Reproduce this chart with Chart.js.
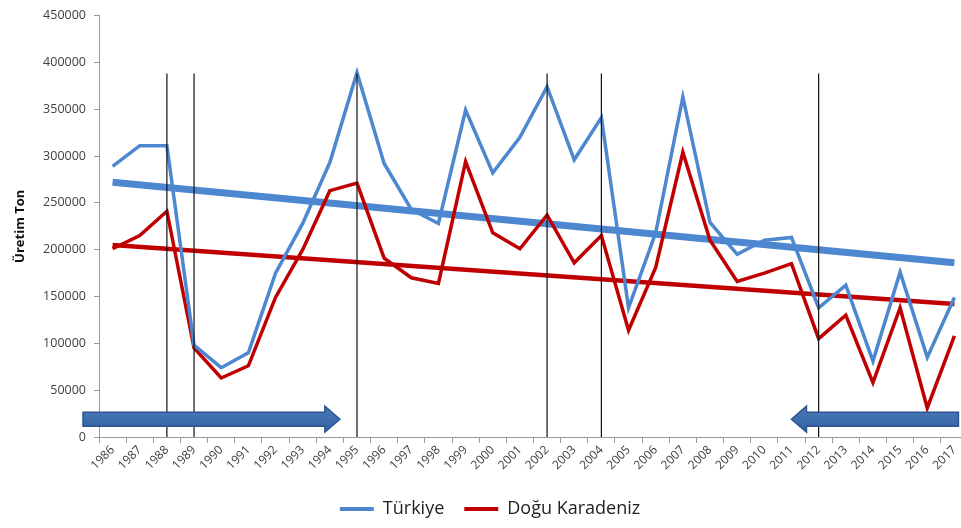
<!DOCTYPE html>
<html>
<head>
<meta charset="utf-8">
<script src="https://cdn.jsdelivr.net/npm/chart.js@4"></script>
<style>
  html, body { margin: 0; padding: 0; background: #fff; overflow: hidden; }
  #wrap { width: 980px; height: 528px; }
</style>
</head>
<body>
<div id="wrap"><canvas id="uretimChart" width="980" height="528"></canvas></div>
<script>
var years = ['1986','1987','1988','1989','1990','1991','1992','1993','1994','1995','1996','1997','1998','1999','2000','2001',
             '2002','2003','2004','2005','2006','2007','2008','2009','2010','2011','2012','2013','2014','2015','2016','2017'];

var turkiye = [289000, 311000, 311000, 98000, 74000, 90000, 175000, 228000, 293000, 389000, 292000, 243000, 228000, 349000, 282000, 320000,
               374000, 296000, 341000, 138000, 218000, 363000, 229000, 195000, 210000, 213000, 138000, 162000, 81000, 176000, 85000, 149000];

var doguKaradeniz = [201000, 215000, 241000, 95000, 63000, 76000, 149000, 200000, 263000, 271000, 191000, 170000, 164000, 294000, 218000, 201000,
                     237000, 186000, 215000, 114000, 181000, 304000, 210000, 166000, 175000, 185000, 105000, 130000, 58000, 138000, 31000, 108000];

// trend lines: start (1986) and end (2017) values
var turkiyeTrend = [272000, 186000];
var doguTrend = [205000, 142000];

// years marked with vertical lines, and their top value
var markYears = ['1988', '1989', '1995', '2002', '2004', '2012'];
var markTop = 388000;

var yTicks = [0, 50000, 100000, 150000, 200000, 250000, 300000, 350000, 400000, 450000];

function trendData(pair){
   var arr = years.map(function(){ return null; });
   arr[0] = pair[0];
   arr[arr.length - 1] = pair[1];
   return arr;
}

var blue = '#4c87cf';
var red = '#c00000';

var overlayPlugin = {
   id: 'overlay',
   afterDatasetsDraw: function(chart){
      var ctx = chart.ctx;
      var x = chart.scales.x, y = chart.scales.y;
      var area = chart.chartArea;
      ctx.save();
      // vertical marker lines
      ctx.strokeStyle = '#111';
      ctx.lineWidth = 1.2;
      markYears.forEach(function(yr){
         var px = x.getPixelForValue(years.indexOf(yr));
         ctx.beginPath();
         ctx.moveTo(px, y.getPixelForValue(markTop));
         ctx.lineTo(px, y.getPixelForValue(0));
         ctx.stroke();
      });
      // arrows
      var cy = y.getPixelForValue(19000);
      function arrow(tail, tip){
         var dir = tip > tail ? 1 : -1;
         var headLen = 15, body = 7, head = 13;
         var base = tip - dir * headLen;
         var grad = ctx.createLinearGradient(0, cy - head, 0, cy + head);
         grad.addColorStop(0, '#4a78b8');
         grad.addColorStop(0.5, '#3f6eb0');
         grad.addColorStop(1, '#33609f');
         ctx.beginPath();
         ctx.moveTo(tail, cy - body);
         ctx.lineTo(base, cy - body);
         ctx.lineTo(base, cy - head);
         ctx.lineTo(tip, cy);
         ctx.lineTo(base, cy + head);
         ctx.lineTo(base, cy + body);
         ctx.lineTo(tail, cy + body);
         ctx.closePath();
         ctx.fillStyle = grad;
         ctx.fill();
         ctx.strokeStyle = '#2c5590';
         ctx.lineWidth = 1.5;
         ctx.stroke();
      }
      arrow(area.left - 16, x.getPixelForValue(8.37));
      arrow(x.getPixelForValue(31) + 4, x.getPixelForValue(25));
      ctx.restore();
   }
};

var ctx = document.getElementById('uretimChart').getContext('2d');

var options = {
   responsive : false,
   maintainAspectRatio : false,
   animation : false,
   layout : { padding : { left: 12, top: 8, right: 12, bottom: 0 } },
   plugins : {
      legend : {
         position : 'bottom',
         labels : {
            filter : function(item){ return item.datasetIndex < 2; },
            generateLabels : function(chart){
               var items = Chart.defaults.plugins.legend.labels.generateLabels(chart);
               items.forEach(function(it){ it.lineWidth = 0; });
               return items;
            },
            font : { family: 'Open Sans', size: 18 },
            color : '#222',
            boxWidth : 34,
            boxHeight : 4,
            padding : 20
         }
      },
      tooltip : { enabled : false }
   },
   scales : {
      x : {
         offset : true,
         grid : { display : true, drawOnChartArea : false, offset : true, tickLength : 6, color : '#9a9a9a' },
         border : { color : '#9a9a9a' },
         ticks : {
            minRotation : 45, maxRotation : 45, autoSkip : false,
            color : '#404040',
            font : { family: 'Open Sans', size: 12 },
            padding : 0
         },
         afterFit : function(scale){ scale.height = 43; }
      },
      y : {
         min : 0, max : 450000,
         afterBuildTicks : function(scale){ scale.ticks = yTicks.map(function(v){ return { value: v }; }); },
         grid : { display : true, drawOnChartArea : false, tickLength : 5, color : '#9a9a9a' },
         border : { color : '#9a9a9a' },
         ticks : {
            color : '#404040',
            font : { family: 'Open Sans', size: 12.5 },
            padding : 8,
            callback : function(v){ return String(v); }
         },
         title : {
            display : true,
            text : 'Üretim Ton',
            color : '#111',
            font : { family: 'Open Sans', size: 13, weight: 'bold' },
            padding : { top: 0, bottom: 4 }
         },
         afterFit : function(scale){ scale.width = 87; }
      }
   }
};

var uretimChart = {
   type : 'line',
   options : options,
   plugins : [overlayPlugin],
   data : {
      labels : years,
      datasets : [ {
         label : 'Türkiye',
         data : turkiye,
         borderColor : blue,
         backgroundColor : blue,
         borderWidth : 3.5,
         pointRadius : 0,
         tension : 0
      }, {
         label : 'Doğu Karadeniz',
         data : doguKaradeniz,
         borderColor : red,
         backgroundColor : red,
         borderWidth : 3.5,
         pointRadius : 0,
         tension : 0
      }, {
         label : 'Türkiye trend',
         data : trendData(turkiyeTrend),
         borderColor : blue,
         borderWidth : 7,
         pointRadius : 0,
         spanGaps : true
      }, {
         label : 'Doğu Karadeniz trend',
         data : trendData(doguTrend),
         borderColor : red,
         borderWidth : 4.5,
         pointRadius : 0,
         spanGaps : true
      } ]
   }
};

var MyChart = new Chart(ctx, uretimChart);
</script>
</body>
</html>
